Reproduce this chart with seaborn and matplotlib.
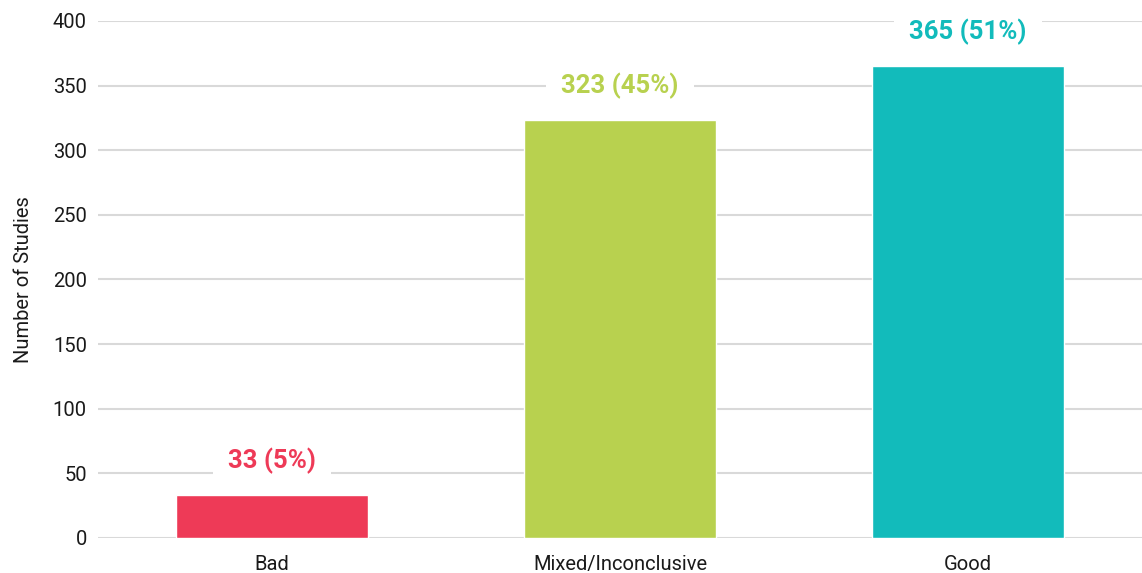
import pandas as pd
import seaborn as sns
import matplotlib.pyplot as plt

# values
categories = ['Bad', 'Mixed/Inconclusive', 'Good']
counts = [33, 323, 365]
labels = ['33 (5%)', '323 (45%)', '365 (51%)']
colors = ['#EE3A57', '#B8D14F', '#12BBBB']


def main():
    sns.set_style('white')
    plt.rcParams['font.family'] = ['Roboto', 'DejaVu Sans']

    df = pd.DataFrame({'Outcome': categories, 'Studies': counts})

    fig = plt.figure(figsize=(11.42, 5.73), dpi=100)
    ax = fig.add_axes([0.0858, 0.0611, 0.9142, 0.9023])

    sns.barplot(data=df, x='Outcome', y='Studies', hue='Outcome',
                palette=colors, width=0.55, legend=False, ax=ax,
                saturation=1, zorder=2)

    ax.set_ylim(0, 400)
    ax.set_xlim(-0.5, 2.5)
    ax.set_yticks(range(0, 401, 50))
    ax.yaxis.grid(True, color='#d9d9d9', linewidth=1.5, zorder=0)
    ax.set_axisbelow(True)
    sns.despine(ax=ax, left=True, bottom=True)
    ax.tick_params(axis='both', length=0, labelsize=14.5, colors='#1a1a1a')
    ax.tick_params(axis='y', pad=8)
    ax.tick_params(axis='x', pad=12)
    ax.set_xlabel('')
    ax.set_ylabel('Number of Studies', fontsize=14.5, color='#1a1a1a', labelpad=14)

    for i, (val, lab, col) in enumerate(zip(counts, labels, colors)):
        ax.annotate(lab, xy=(i, val), xytext=(0, 25), textcoords='offset points',
                    ha='center', va='center', fontsize=18.5, fontweight='bold',
                    color=col, zorder=3,
                    bbox=dict(boxstyle='square,pad=0.6', fc='white', ec='none'))

    fig.savefig('out.png', dpi=100)
    plt.close(fig)


if __name__ == "__main__":
    raise SystemExit(main())
